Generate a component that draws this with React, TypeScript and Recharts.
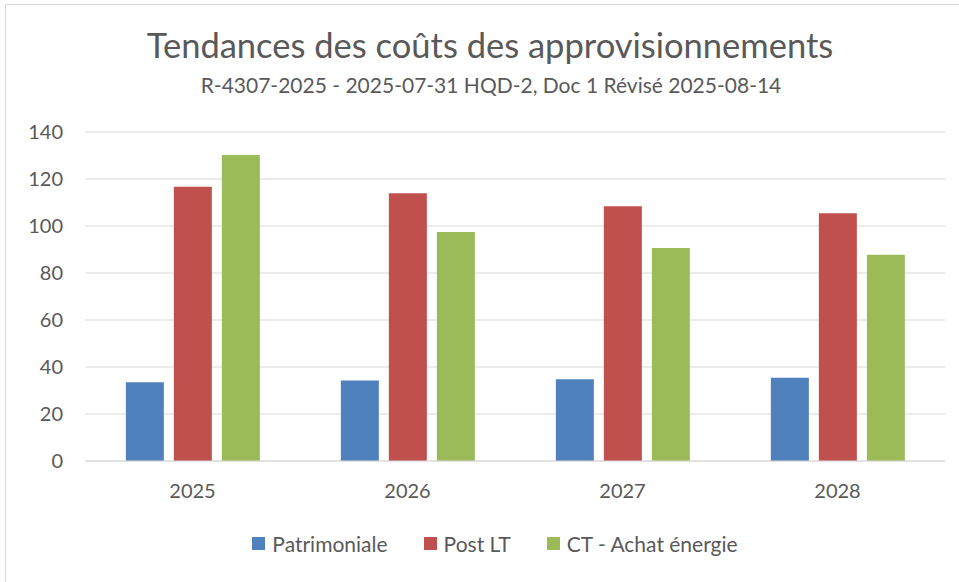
import { BarChart, Bar, XAxis, YAxis, CartesianGrid, Legend } from 'recharts'

const years = ['2025', '2026', '2027', '2028']
const patrimoniale = [33.5, 34.3, 34.8, 35.4]
const postLT = [116.7, 113.9, 108.4, 105.4]
const ctAchat = [130.2, 97.4, 90.6, 87.8]
const yTicks = [0, 20, 40, 60, 80, 100, 120, 140]

const SERIES = [
  { key: 'patrimoniale', name: 'Patrimoniale', color: '#4f81bd' },
  { key: 'postLT', name: 'Post LT', color: '#c0504d' },
  { key: 'ctAchat', name: 'CT - Achat énergie', color: '#9bbb59' },
]

const FONT = 'Lato, "Open Sans", sans-serif'
const TEXT = '#595959'

function LegendBox() {
  return (
    <div style={{ display: 'flex', justifyContent: 'center', gap: 36, fontFamily: FONT, fontSize: 21, color: TEXT }}>
      {SERIES.map((s) => (
        <div key={s.key} style={{ display: 'flex', alignItems: 'center' }}>
          <span style={{ width: 13, height: 13, background: s.color, display: 'inline-block', marginRight: 7 }} />
          <span>{s.name}</span>
        </div>
      ))}
    </div>
  )
}

export default function App() {
  const data = years.map((y, i) => ({ year: y, patrimoniale: patrimoniale[i], postLT: postLT[i], ctAchat: ctAchat[i] }))
  return (
    <div style={{ position: 'absolute', left: 0, top: 0, width: 959, height: 582, background: '#fff', overflow: 'hidden' }}>
      <div style={{ position: 'absolute', left: 5, top: 4, width: 980, height: 600, border: '1px solid #d9d9d9' }} />
      <div style={{ position: 'absolute', left: 0, top: 24, width: 980, textAlign: 'center', fontFamily: FONT, fontSize: 34.5, color: TEXT }}>
        Tendances des coûts des approvisionnements
      </div>
      <div style={{ position: 'absolute', left: 0, top: 72, width: 982, textAlign: 'center', fontFamily: FONT, fontSize: 21, color: TEXT }}>
        R-4307-2025 - 2025-07-31 HQD-2, Doc 1 Révisé 2025-08-14
      </div>
      <div style={{ position: 'absolute', left: 0, top: 0 }}>
        <BarChart width={959} height={582} data={data} margin={{ top: 132, right: 14, bottom: 20, left: 25 }} barGap={10} barCategoryGap="19%">
          <CartesianGrid stroke="#d9d9d9" vertical={false} />
          <XAxis dataKey="year" tick={{ fill: TEXT, fontSize: 20, fontFamily: FONT }} tickLine={false} axisLine={{ stroke: '#d9d9d9' }} height={40} tickMargin={17} />
          <YAxis domain={[0, 140]} ticks={yTicks} tick={{ fill: TEXT, fontSize: 20, fontFamily: FONT }} tickLine={false} axisLine={false} width={60} tickMargin={16} />
          <Legend verticalAlign="bottom" height={61} content={() => <LegendBox />} wrapperStyle={{ top: 531, left: 0, width: 990 }} />
          {SERIES.map((s) => (
            <Bar key={s.key} dataKey={s.key} name={s.name} fill={s.color} isAnimationActive={false} />
          ))}
        </BarChart>
      </div>
    </div>
  )
}
